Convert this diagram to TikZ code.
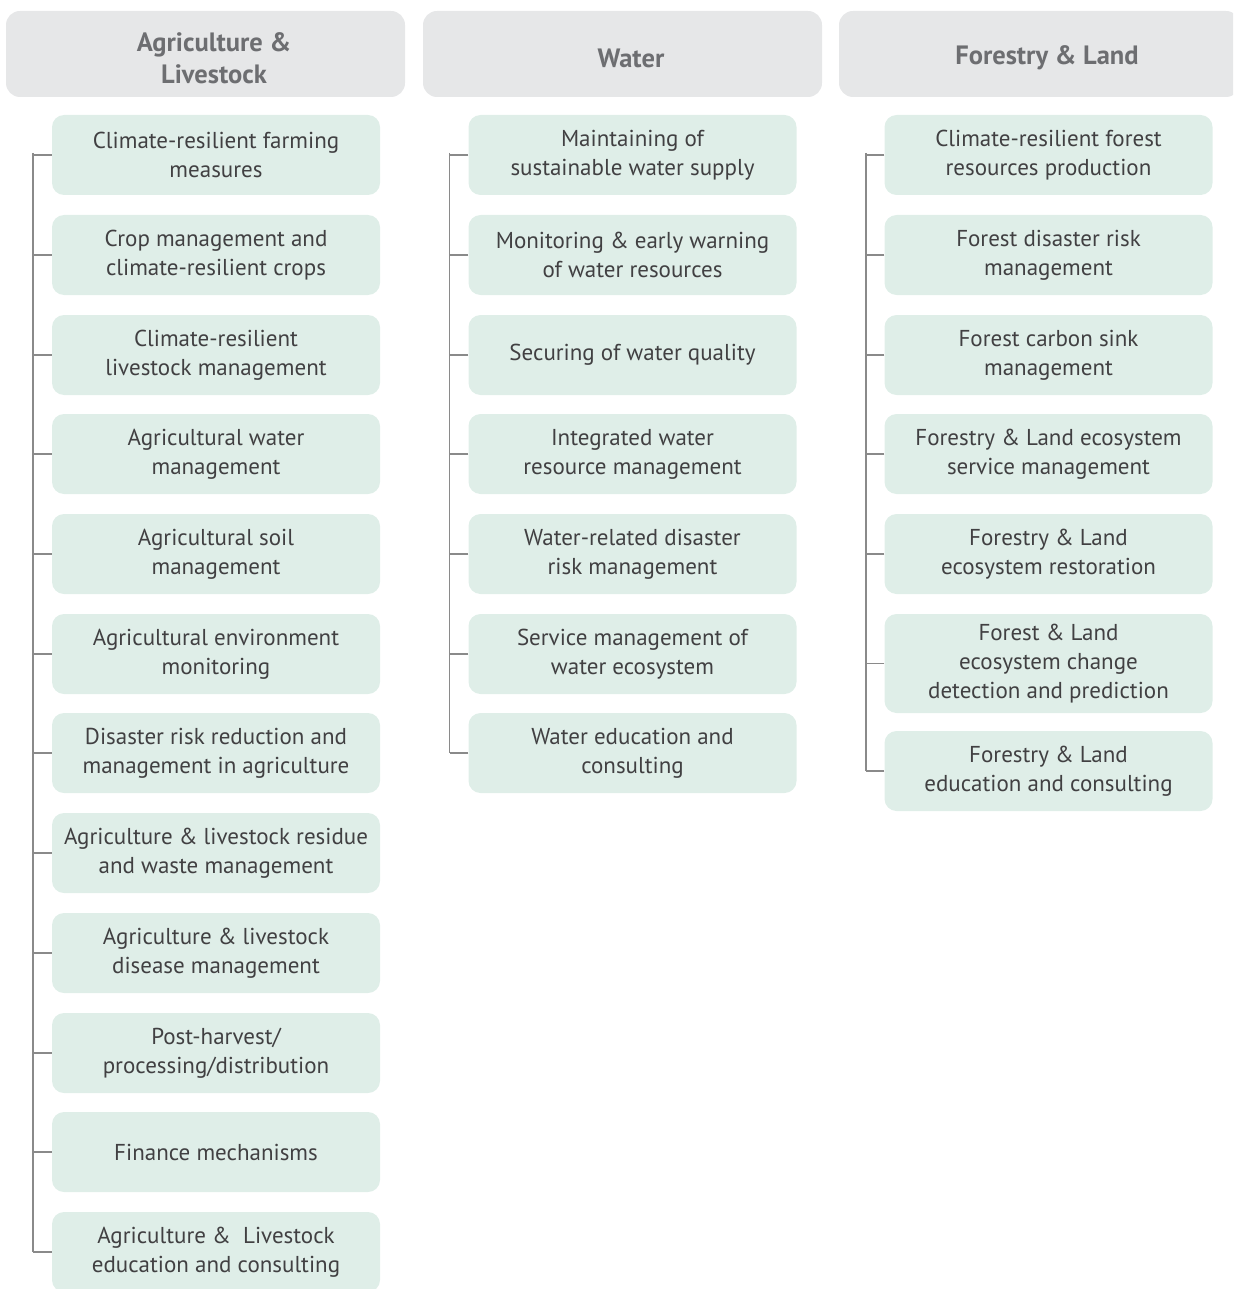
\documentclass[tikz,border=0pt]{standalone}
\usepackage{fontspec}
\setmainfont{PT Sans}
\definecolor{hdrfill}{HTML}{E6E7E8}
\definecolor{hdrtext}{HTML}{6D6E71}
\definecolor{boxfill}{HTML}{DFEEE8}
\definecolor{boxtext}{HTML}{414042}
\definecolor{linecol}{HTML}{8A8A8A}
\tikzset{
  hdrbox/.style={fill=hdrfill, rounded corners=14pt},
  hdr/.style={inner sep=0pt, align=center, text=hdrtext, font=\fontsize{26.5}{32}\selectfont\bfseries},
  item/.style={fill=boxfill, rounded corners=12pt, minimum width=328pt, minimum height=80pt,
    inner sep=0pt, align=center, text=boxtext, font=\fontsize{23}{29}\selectfont},
  conn/.style={draw=linecol, line width=1.3pt},
}
\begin{document}
\begin{tikzpicture}[x=1pt,y=-1pt]
\useasboundingbox (0,0) rectangle (1233,1289);
\clip (0,0) rectangle (1233,1289);
% headers
\fill[hdrbox] (6,11) rectangle (405,97);
\fill[hdrbox] (423,11) rectangle (822,97);
\fill[hdrbox] (839,11) rectangle (1240,97);
\node[hdr] (h1) at (214,58) {Agriculture \&\\Livestock};
\node[hdr] (h2) at (631,58) {Water};
\node[hdr] (h3) at (1047,58) {Forestry \& Land};
% column 1
\node[item] (a1) at (216,155) {Climate-resilient farming\\measures};
\node[item] (a2) at (216,255) {Crop management and\\climate-resilient crops};
\node[item] (a3) at (216,355) {Climate-resilient\\livestock management};
\node[item] (a4) at (216,454) {Agricultural water\\management};
\node[item] (a5) at (216,554) {Agricultural soil\\management};
\node[item] (a6) at (216,654) {Agricultural environment\\monitoring};
\node[item] (a7) at (216,753) {Disaster risk reduction and\\management in agriculture};
\node[item] (a8) at (216,853) {Agriculture \& livestock residue\\and waste management};
\node[item] (a9) at (216,953) {Agriculture \& livestock\\disease management};
\node[item] (a10) at (216,1053) {Post-harvest/\\processing/distribution};
\node[item] (a11) at (216,1152) {Finance mechanisms};
\node[item] (a12) at (216,1252) {Agriculture \&\ \ Livestock\\education and consulting};
% column 2
\node[item] (b1) at (632.5,155) {Maintaining of\\sustainable water supply};
\node[item] (b2) at (632.5,255) {Monitoring \& early warning\\of water resources};
\node[item] (b3) at (632.5,355) {Securing of water quality};
\node[item] (b4) at (632.5,454) {Integrated water\\resource management};
\node[item] (b5) at (632.5,554) {Water-related disaster\\risk management};
\node[item] (b6) at (632.5,654) {Service management of\\water ecosystem};
\node[item] (b7) at (632.5,753) {Water education and\\consulting};
% column 3
\node[item] (c1) at (1048.5,155) {Climate-resilient forest\\resources production};
\node[item] (c2) at (1048.5,255) {Forest disaster risk\\management};
\node[item] (c3) at (1048.5,355) {Forest carbon sink\\management};
\node[item] (c4) at (1048.5,454) {Forestry \& Land ecosystem\\service management};
\node[item] (c5) at (1048.5,554) {Forestry \& Land\\ecosystem restoration};
\node[item, minimum height=99pt] (c6) at (1048.5,663.5) {Forest \& Land\\ecosystem change\\detection and prediction};
\node[item] (c7) at (1048.5,771) {Forestry \& Land\\education and consulting};
% connectors
\coordinate (ta) at (33,153);
\coordinate (tb) at (449.5,153);
\coordinate (tc) at (866,153);
\foreach \n in {1,...,12} {\draw[conn] (a\n.west) -- (a\n.west -| ta);}
\draw[conn] (ta) -- (a12.west -| ta);
\foreach \n in {1,...,7} {\draw[conn] (b\n.west) -- (b\n.west -| tb);}
\draw[conn] (tb) -- (b7.west -| tb);
\foreach \n in {1,...,7} {\draw[conn] (c\n.west) -- (c\n.west -| tc);}
\draw[conn] (tc) -- (c7.west -| tc);
\end{tikzpicture}
\end{document}
